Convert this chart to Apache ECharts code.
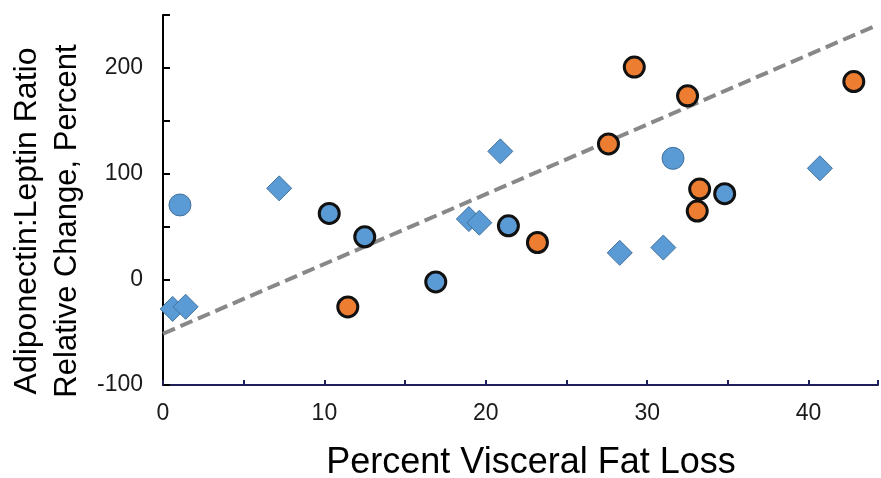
<!DOCTYPE html>
<html>
<head>
<meta charset="utf-8">
<script src="https://cdn.jsdelivr.net/npm/echarts@6/dist/echarts.min.js"></script>
<style>
html,body{margin:0;padding:0;background:#fff;}
#c{width:881px;height:478px;}
</style>
</head>
<body>
<div id="c"></div>
<script>
// Data
var diamondX = [0.6, 1.4, 7.2, 18.95, 19.6, 20.9, 28.3, 31.0, 40.7];
var diamondY = [-28, -26, 86, 57, 53.5, 121, 25, 30, 105];

var blueLightX = [1.05, 31.6];
var blueLightY = [70.3, 114.4];

var blueDarkX = [10.3, 12.5, 16.9, 21.4, 34.8];
var blueDarkY = [62.3, 40.2, -2.5, 50.6, 81];

var orangeX = [11.45, 23.2, 27.6, 29.2, 32.5, 33.1, 33.25, 42.8];
var orangeY = [-26.2, 34.8, 128, 200.7, 173.5, 64.5, 85.3, 187];

var trendX = [0, 44.3];
var trendY = [-51.5, 240.8];

var xTicks = [0, 10, 20, 30, 40];
var yTicks = [-100, 0, 100, 200];

function zip(a, b) { return a.map(function (v, i) { return [v, b[i]]; }); }

var chart = echarts.init(document.getElementById('c'), null, {renderer: 'canvas'});
var font = 'Liberation Sans, Arial, sans-serif';

chart.setOption({
  animation: false,
  grid: {left: 163, right: 0, top: 15, bottom: 93, containLabel: false},
  xAxis: {
    type: 'value', min: 0, max: 44.3, interval: 5,
    splitLine: {show: false},
    axisLine: {show: true, onZero: false, lineStyle: {color: '#1e1e5a', width: 2}},
    axisTick: {show: true, inside: true, length: 5, lineStyle: {color: '#1e1e5a', width: 2}},
    axisLabel: {
      margin: 17, fontSize: 23, color: '#1a1a1a', fontFamily: font,
      formatter: function (v) { return xTicks.indexOf(v) >= 0 ? String(v) : ''; }
    }
  },
  yAxis: {
    type: 'value', min: -100, max: 250, interval: 50,
    splitLine: {show: false},
    axisLine: {show: true, onZero: false, lineStyle: {color: '#000', width: 2}},
    axisTick: {show: true, inside: true, length: 7, lineStyle: {color: '#000', width: 2}},
    axisLabel: {
      margin: 20, fontSize: 23, color: '#1a1a1a', fontFamily: font,
      formatter: function (v) { return yTicks.indexOf(v) >= 0 ? String(v) : ''; }
    }
  },
  graphic: [
    {type: 'text', x: 27, y: 221, rotation: Math.PI / 2,
     style: {text: 'Adiponectin:Leptin Ratio', font: '32px ' + font, fill: '#000', textAlign: 'center', textVerticalAlign: 'middle'}},
    {type: 'text', x: 67, y: 221, rotation: Math.PI / 2,
     style: {text: 'Relative Change, Percent', font: '31px ' + font, fill: '#000', textAlign: 'center', textVerticalAlign: 'middle'}},
    {type: 'text', x: 531, y: 463,
     style: {text: 'Percent Visceral Fat Loss', font: '36px ' + font, fill: '#000', textAlign: 'center', textVerticalAlign: 'middle'}}
  ],
  series: [
    {
      type: 'line', data: zip(trendX, trendY), symbol: 'none', z: 1,
      lineStyle: {color: '#888', width: 4, type: [13, 6]}
    },
    {
      type: 'scatter', data: zip(diamondX, diamondY), symbol: 'diamond', symbolSize: 25, z: 3,
      itemStyle: {color: '#5b9bd5', borderColor: '#41719c', borderWidth: 1, opacity: 1}
    },
    {
      type: 'scatter', data: zip(blueLightX, blueLightY), symbol: 'circle', symbolSize: 22, z: 3,
      itemStyle: {color: '#5b9bd5', borderColor: '#41719c', borderWidth: 1, opacity: 1}
    },
    {
      type: 'scatter', data: zip(blueDarkX, blueDarkY), symbol: 'circle', symbolSize: 20, z: 3,
      itemStyle: {color: '#5b9bd5', borderColor: '#111', borderWidth: 3, opacity: 1}
    },
    {
      type: 'scatter', data: zip(orangeX, orangeY), symbol: 'circle', symbolSize: 20, z: 3,
      itemStyle: {color: '#ed7d31', borderColor: '#111', borderWidth: 3, opacity: 1}
    }
  ]
});
</script>
</body>
</html>
